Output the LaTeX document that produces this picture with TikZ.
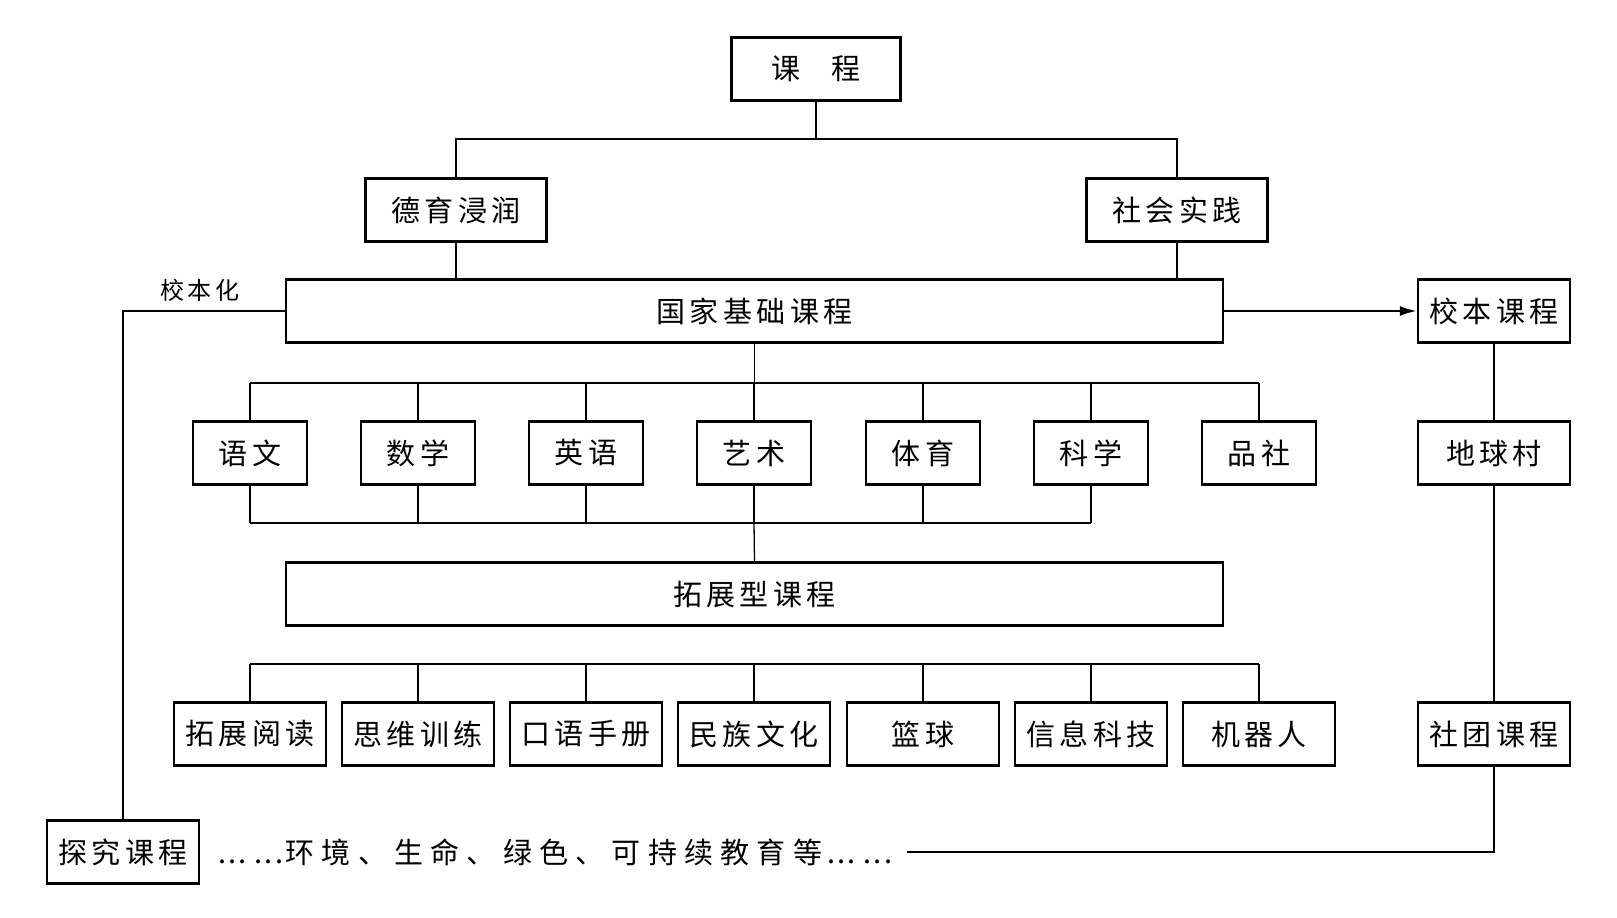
\documentclass[tikz,border=0pt]{standalone}
\usepackage{fontspec}
\newfontfamily\cjk[LetterSpace=15]{Noto Sans CJK SC}
\newfontfamily\cjkwide[LetterSpace=25]{Noto Sans CJK SC}
\newcommand\dotgrp{\makebox[1.25em][s]{\,.\hfil.\hfil.\hfil}}
\usetikzlibrary{arrows.meta}

\tikzset{
  box/.style={draw,line width=2.5pt,inner sep=0pt,minimum height=63pt,
    font=\cjk\fontsize{29}{34}\selectfont},
  subj/.style={box,minimum width=114pt},
  ext/.style={box,minimum width=152pt},
  link/.style={line width=1.3pt}
}

\begin{document}
\begin{tikzpicture}[x=1pt,y=-1pt,>=Latex]
\useasboundingbox[fill=white](0,0)rectangle(1617,918);
\node[box,minimum width=169pt] (kc) at (816,69) {课\hspace{1.1em}程};
\node[box,minimum width=181pt] (dy) at (456,210) {德育浸润};
\node[box,minimum width=181pt] (sh) at (1177,210) {社会实践};
\node[box,minimum width=937pt] (gj) at (754.5,311) {国家基础课程};
\node[ext] (xb) at (1494,311) {校本课程};
\node[box,minimum width=937pt] (tz) at (754.5,594) {拓展型课程};
\foreach \n/\x/\t in {s1/250/语文,s2/418/数学,s3/586/英语,s4/754/艺术,s5/923/体育,s6/1091/科学,s7/1259/品社}
  \node[subj] (\n) at (\x,453) {\t};
\foreach \n/\x/\t in {e1/250/拓展阅读,e2/418/思维训练,e3/586/口语手册,e4/754/民族文化,e5/923/篮球,e6/1091/信息科技,e7/1259/机器人}
  \node[ext] (\n) at (\x,734) {\t};
\node[ext] (dq) at (1494,453) {地球村};
\node[ext] (st) at (1494,734) {社团课程};
\node[ext] (tj) at (123,852) {探究课程};
\node[anchor=west,inner xsep=12pt,font=\cjkwide\fontsize{29}{34}\selectfont] (ht) at (201,852) {\dotgrp\dotgrp 环境、生命、绿色、可持续教育等\dotgrp\dotgrp};
\node[font=\cjk\fontsize{24}{28}\selectfont] (xbh) at (200,290) {校本化};

\coordinate (b0) at (0,139);
\coordinate (b1) at (0,383);
\coordinate (b2) at (0,523);
\coordinate (b3) at (0,664);
\draw[link] (kc.south)--(kc.south|-b0);
\draw[link] (dy.north)--(dy.north|-b0)--(sh.north|-b0)--(sh.north);
\draw[link] (dy.south)--(dy.south|-gj.north);
\draw[link] (sh.south)--(sh.south|-gj.north);
\draw[line width=2.2pt,-{Latex[length=17pt,width=10pt]}] (gj.east)--(xb.west);
\draw[line width=1.8pt] (gj.west)-|(tj.north);
\draw[link] (gj.south)--(gj.south|-b1);
\draw[link] (s1.north|-b1)--(s7.north|-b1);
\foreach \i in {1,...,7} \draw[link] (s\i.north)--(s\i.north|-b1);
\draw[link] (s1.south|-b2)--(s6.south|-b2);
\foreach \i in {1,...,6} \draw[link] (s\i.south)--(s\i.south|-b2);
\draw[link] (s4.south|-b2)--(tz.north);
\draw[link] (e1.north|-b3)--(e7.north|-b3);
\foreach \i in {1,...,7} \draw[link] (e\i.north)--(e\i.north|-b3);
\draw[link] (xb.south)--(dq.north);
\draw[link] (dq.south)--(st.north);
\draw[link] (st.south)|-(ht.east);
\end{tikzpicture}
\end{document}
